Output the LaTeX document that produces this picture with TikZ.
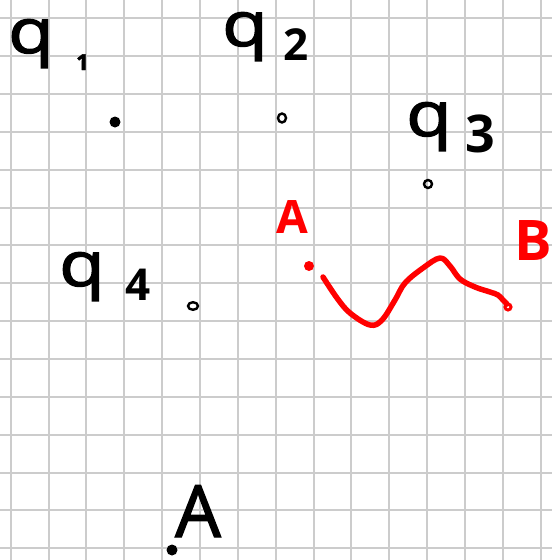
\documentclass[tikz,border=0pt]{standalone}
\usepackage{fontspec}
\setmainfont{Open Sans}
\newfontfamily\inkfont{Open Sans}[FakeBold=2]
\definecolor{gridgray}{RGB}{204,204,204}
\definecolor{inkred}{RGB}{255,0,0}
\newcommand{\qglyph}{\scalebox{1.2}[1]{q}}
\begin{document}
\begin{tikzpicture}[x=1pt,y=-1pt,
  gridline/.style={draw=gridgray, line width=2pt},
  lbl/.style={inner sep=0pt, anchor=base west, text=black},
  redlbl/.style={inner sep=0pt, anchor=base west, text=inkred},
  redink/.style={draw=inkred, line width=5.5pt, line cap=round, line join=round},
  dotfull/.style={fill=black},
  dothollow/.style={draw=black, line width=2.4pt}]
\useasboundingbox (0,0) rectangle (552,560);
\fill[white] (0,0) rectangle (552,560);
\foreach \k in {0,...,14} {
  \draw[gridline] ({10.7+37.85*\k},0) -- ({10.7+37.85*\k},560);
  \draw[gridline] (0,{18.3+37.85*\k}) -- (552,{18.3+37.85*\k});
}
% labels
\node[lbl, font=\inkfont\fontsize{62}{62}\selectfont] (q1) at (8,53) {\qglyph};
\node[lbl, font=\inkfont\bfseries\fontsize{22}{22}\selectfont] (q1s) at (76,70) {1};
\node[lbl, font=\inkfont\fontsize{62}{62}\selectfont] (q2) at (222,46) {\qglyph};
\node[lbl, font=\bfseries\fontsize{44}{44}\selectfont] (q2s) at (283,60) {2};
\node[lbl, font=\inkfont\fontsize{62}{62}\selectfont] (q3) at (406,136) {\qglyph};
\node[lbl, font=\bfseries\fontsize{52}{52}\selectfont] (q3s) at (465,152) {3};
\node[lbl, font=\inkfont\fontsize{62}{62}\selectfont] (q4) at (59,286) {\qglyph};
\node[lbl, font=\bfseries\fontsize{44}{44}\selectfont] (q4s) at (125,300) {4};
\node[redlbl, font=\bfseries\fontsize{46}{46}\selectfont] (ra) at (276,233) {A};
\node[redlbl, font=\bfseries\fontsize{56}{56}\selectfont] (rb) at (514,260) {B};
\node[lbl, font=\inkfont\fontsize{72}{72}\selectfont] (ba) at (175,537) {A};
% dots
\fill[dotfull] (115,122) circle (5.5);
\draw[dothollow] (282,118) ellipse (4 and 4.5);
\draw[dothollow] (428,184) ellipse (4 and 4);
\draw[dothollow] (193,306) ellipse (5 and 3.8);
\fill[dotfull] (172,550) circle (5.5);
\fill[inkred] (309,266) circle (5);
% red path
\draw[redink] plot[smooth, tension=0.6] coordinates {(323,277) (337,298) (350,313) (370,325) (382,320) (395,300) (405,283) (423,268) (440,258) (450,266) (460,279) (475,287) (490,292) (498,295) (503,300) (507,304)};
\draw[draw=inkred, line width=3pt] (508,307) circle (3);
\end{tikzpicture}
\end{document}
